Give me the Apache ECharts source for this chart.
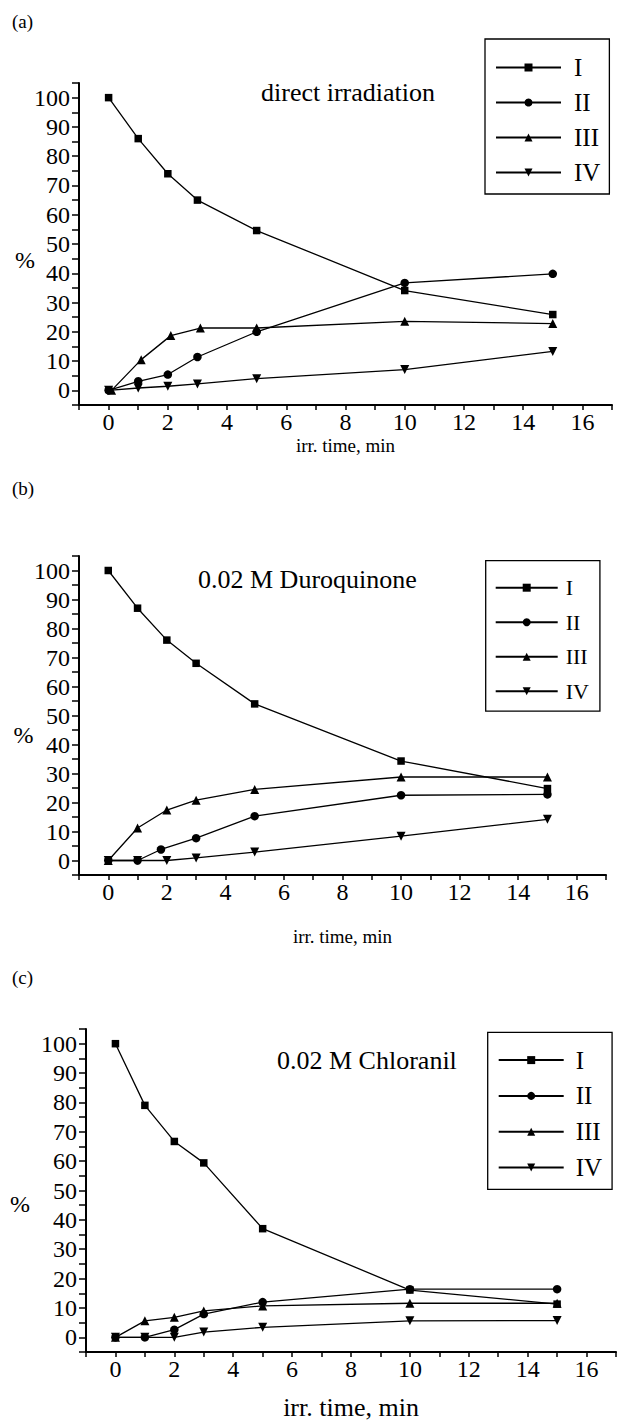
<!DOCTYPE html>
<html>
<head>
<meta charset="utf-8">
<script src="https://cdn.jsdelivr.net/npm/echarts@6/dist/echarts.min.js"></script>
<style>
html,body{margin:0;padding:0;background:#fff;}
#chart{width:619px;height:1421px;}
</style>
</head>
<body>
<div id="chart"></div>
<script>
// ---- data ----
const times = [0, 1, 2, 3, 5, 10, 15];
const seriesNames = ['I', 'II', 'III', 'IV'];
const panelLabels = ['(a)', '(b)', '(c)'];
const panelNotes = ['direct irradiation', '0.02 M Duroquinone', '0.02 M Chloranil'];
const xTitle = 'irr. time, min';
const yTitle = '%';

// panel (a) direct irradiation
const timesA_III = [0.1, 1.1, 2.1, 3.1, 5, 10, 15];
const a_I   = [100, 86, 74, 65, 54.6, 34.1, 25.9];
const a_II  = [0, 3.1, 5.4, 11.4, 20, 36.7, 39.8];
const a_III = [0, 10.5, 18.7, 21.3, 21.3, 23.6, 22.8];
const a_IV  = [0, 0.8, 1.4, 2.2, 4, 7.1, 13.3];

// panel (b) 0.02 M Duroquinone
const timesB_II = [0, 1, 1.8, 3, 5, 10, 15];
const b_I   = [100, 87, 76, 68, 54, 34.3, 24.8];
const b_II  = [0, 0, 3.8, 7.7, 15.3, 22.5, 22.8];
const b_III = [0, 11.2, 17.4, 20.8, 24.5, 28.8, 28.8];
const b_IV  = [0, 0, 0, 0.9, 2.9, 8.4, 14.2];

// panel (c) 0.02 M Chloranil
const c_I   = [100, 79, 66.7, 59.4, 37, 16.1, 11.3];
const c_II  = [0, 0, 2.6, 7.9, 12, 16.4, 16.4];
const c_III = [0, 5.6, 6.8, 9, 10.7, 11.6, 11.6];
const c_IV  = [0, 0, 0, 1.8, 3.4, 5.6, 5.7];

// ---- build ----
const FONT = 'Liberation Serif';
const pair = (xs, ys) => xs.map((x, i) => [x, ys[i]]);

const panels = [
  { data: [pair(times, a_I), pair(times, a_II), pair(timesA_III, a_III), pair(times, a_IV)],
    grid: {left: 79, top: 83, width: 533, height: 322},
    xNameGap: 31, xNameSize: 19,
    label: {left: 12, top: 11.5}, note: {left: 261, top: 79},
    pct: {left: 15, top: 248},
    legend: {left: 485, top: 39, padding: [16, 9, 9, 10], itemGap: 10, itemWidth: 65, font: 25, textPad: 8} },
  { data: [pair(times, b_I), pair(timesB_II, b_II), pair(times, b_III), pair(times, b_IV)],
    grid: {left: 79, top: 556, width: 527, height: 319},
    xNameGap: 52, xNameSize: 19,
    label: {left: 12, top: 478.5}, note: {left: 198, top: 566},
    pct: {left: 13.5, top: 723},
    legend: {left: 485.7, top: 560.7, padding: [16, 11, 9, 9], itemGap: 12.5, itemWidth: 62, font: 22, textPad: 3} },
  { data: [pair(times, c_I), pair(times, c_II), pair(times, c_III), pair(times, c_IV)],
    grid: {left: 86, top: 1029, width: 534, height: 325},
    xNameGap: 42, xNameSize: 26,
    label: {left: 12, top: 967.5}, note: {left: 277, top: 1047},
    pct: {left: 10, top: 1192},
    legend: {left: 487.7, top: 1032.3, padding: [15.3, 10, 9.3, 10], itemGap: 10.8, itemWidth: 65, font: 25, textPad: 7} }
];

const symbols = [
  {symbol: 'rect', symbolSize: 7.5, symbolRotate: 0},
  {symbol: 'circle', symbolSize: 8.5, symbolRotate: 0},
  {symbol: 'triangle', symbolSize: 9, symbolRotate: 0},
  {symbol: 'triangle', symbolSize: 9, symbolRotate: 180}
];

const option = {
  backgroundColor: '#fff',
  animation: false,
  title: [],
  legend: [],
  grid: [],
  xAxis: [],
  yAxis: [],
  series: []
};

panels.forEach((p, pi) => {
  option.grid.push(Object.assign({containLabel: false}, p.grid));
  option.xAxis.push({
    type: 'value', gridIndex: pi, min: -1, max: 17, interval: 1,
    name: xTitle, nameLocation: 'middle', nameGap: p.xNameGap,
    nameTextStyle: {fontFamily: FONT, fontSize: p.xNameSize, color: '#000'},
    axisLine: {onZero: false, lineStyle: {color: '#000', width: 2}},
    axisTick: {inside: false, length: 5, lineStyle: {color: '#000', width: 1.5}},
    axisLabel: {
      margin: 5, fontFamily: FONT, fontSize: 24, color: '#000',
      formatter: v => (v >= 0 && v <= 16 && v % 2 === 0) ? String(v) : ''
    },
    splitLine: {show: false}
  });
  option.yAxis.push({
    type: 'value', gridIndex: pi, min: -5, max: 105, interval: 5,
    axisLine: {onZero: false, lineStyle: {color: '#000', width: 2}},
    axisTick: {inside: false, length: 7, lineStyle: {color: '#000', width: 1.5}},
    axisLabel: {
      margin: 9, fontFamily: FONT, fontSize: 24, color: '#000',
      formatter: v => (v >= 0 && v <= 100 && v % 10 === 0) ? String(v) : ''
    },
    splitLine: {show: false}
  });
  option.title.push({
    text: panelLabels[pi], left: p.label.left, top: p.label.top, padding: 0,
    textStyle: {fontFamily: FONT, fontSize: 19, lineHeight: 19, fontWeight: 'normal', color: '#000'}
  });
  option.title.push({
    text: panelNotes[pi], left: p.note.left, top: p.note.top, padding: 0,
    textStyle: {fontFamily: FONT, fontSize: 26, lineHeight: 26, fontWeight: 'normal', color: '#000'}
  });
  option.title.push({
    text: yTitle, left: p.pct.left, top: p.pct.top, padding: 0,
    textStyle: {fontFamily: FONT, fontSize: 24, lineHeight: 24, fontWeight: 'normal', color: '#000'}
  });
  option.legend.push({
    orient: 'vertical', left: p.legend.left, top: p.legend.top,
    padding: p.legend.padding, itemGap: p.legend.itemGap,
    itemWidth: p.legend.itemWidth, itemHeight: 10,
    borderColor: '#000', borderWidth: 1.3, borderRadius: 0,
    backgroundColor: '#fff',
    selectedMode: false,
    data: seriesNames.slice(),
    textStyle: {fontFamily: FONT, fontSize: p.legend.font, color: '#000',
                padding: [0, 0, 0, p.legend.textPad]}
  });
  p.data.forEach((d, si) => {
    option.series.push({
      type: 'line', name: seriesNames[si], xAxisIndex: pi, yAxisIndex: pi,
      data: d, symbol: symbols[si].symbol, symbolSize: symbols[si].symbolSize,
      symbolRotate: symbols[si].symbolRotate, showSymbol: true,
      lineStyle: {color: '#000', width: 1.3},
      itemStyle: {color: '#000', borderWidth: 0},
      silent: true, z: 2 + si
    });
  });
});

const chart = echarts.init(document.getElementById('chart'), null, {renderer: 'svg', width: 619, height: 1421});
chart.setOption(option);
</script>
</body>
</html>
